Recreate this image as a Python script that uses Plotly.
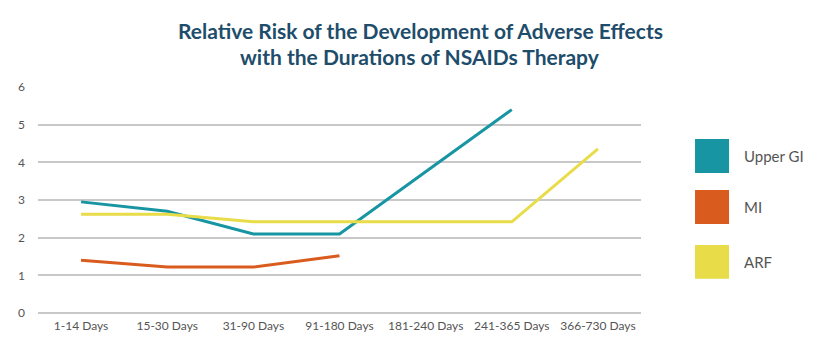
import plotly.graph_objects as go

categories = ["1-14 Days", "15-30 Days", "31-90 Days", "91-180 Days",
              "181-240 Days", "241-365 Days", "366-730 Days"]
upper_gi = [2.95, 2.7, 2.1, 2.1, 3.75, 5.4, None]
mi = [1.4, 1.22, 1.22, 1.52, None, None, None]
arf = [2.62, 2.62, 2.42, 2.42, 2.42, 2.42, 4.36]
series_names = ["Upper GI", "MI", "ARF"]
colors = ["#1895a3", "#d95b1d", "#e8dc48"]
title_lines = ["Relative Risk of the Development of Adverse Effects",
               "with the Durations of NSAIDs Therapy"]

fig = go.Figure()
for name, vals, col in zip(series_names, [upper_gi, mi, arf], colors):
    fig.add_trace(go.Scatter(x=categories, y=vals, mode="lines", name=name,
                             line=dict(color=col, width=3), connectgaps=False,
                             showlegend=False))

# custom legend with large squares
legend_y = [0.695, 0.469, 0.226]
for name, col, yy in zip(series_names, colors, legend_y):
    fig.add_shape(type="rect", xref="paper", yref="paper",
                  x0=1.0896, x1=1.146, y0=yy - 0.075, y1=yy + 0.075,
                  fillcolor=col, line=dict(width=0))
    fig.add_annotation(xref="paper", yref="paper", x=1.1675, y=yy, text=name,
                       showarrow=False, xanchor="left", yanchor="middle",
                       font=dict(family="Lato", size=15, color="#555555"))

# title lines
for txt, yy in zip(title_lines, [1.252, 1.137]):
    fig.add_annotation(xref="paper", yref="paper", x=(420 - 38) / 603, y=yy,
                       text="<b>" + txt + "</b>", showarrow=False,
                       xanchor="center", yanchor="middle",
                       font=dict(family="Lato", size=21, color="#1e4d6b"))

fig.update_layout(
    width=840, height=345,
    margin=dict(l=38, r=199, t=87, b=32),
    paper_bgcolor="white", plot_bgcolor="white",
    font=dict(family="Lato", size=12, color="#555555"),
)
fig.update_xaxes(type="category", range=[-0.5, 6.5], showgrid=False,
                 showline=False, ticks="", ticklabelstandoff=4,
                 tickfont=dict(size=12, color="#555555"))
fig.update_yaxes(range=[0, 6], dtick=1, showgrid=True, gridcolor="#c8c8c8",
                 gridwidth=1.5, zeroline=True, zerolinecolor="#c8c8c8",
                 zerolinewidth=1.5, showline=False, ticks="", ticklabelstandoff=12,
                 tickfont=dict(size=12, color="#555555"))

fig.write_html("out.html")
